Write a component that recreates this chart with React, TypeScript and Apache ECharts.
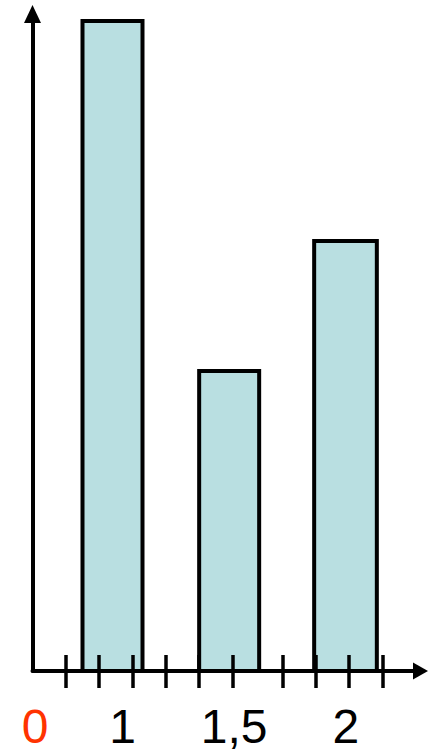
import React, { useEffect, useRef } from "react";
import * as echarts from "echarts";

// Histogram bars: [left edge, right edge, height]
const barLefts = [1.5, 5.0, 8.45];
const barRights = [3.3, 6.8, 10.33];
const barHeights = [6.5, 3.0, 4.3];

// Tick positions on the horizontal axis
const tickValues = [1, 2, 3, 4, 5, 6, 7.5, 8.5, 9.5, 10.5];

// Tick labels
const labelValues = [0.08, 2.7, 6.05, 9.4];
const labelTexts = ["0", "1", "1,5", "2"];

const X_MAX = 11.64;
const Y_MAX = 6.57;

export default function App() {
  const ref = useRef<HTMLDivElement>(null);
  useEffect(() => {
    if (!ref.current) return;
    const chart = echarts.init(ref.current, null, { renderer: "svg" });
    const data = barLefts.map((l, i) => [l, barRights[i], barHeights[i]]);
    const fmt = (v: number) => {
      let best = 0;
      let bd = Infinity;
      labelValues.forEach((lv, i) => {
        const d = Math.abs(lv - v);
        if (d < bd) {
          bd = d;
          best = i;
        }
      });
      const t = labelTexts[best];
      return t === "0" ? "{red|" + t + "}" : t;
    };
    chart.setOption({
      animation: false,
      grid: { left: 32.5, right: 9.5, top: 14, bottom: 84, containLabel: false },
      xAxis: [
        {
          type: "value",
          min: 0,
          max: X_MAX,
          z: 5,
          splitLine: { show: false },
          axisLine: {
            show: true,
            onZero: false,
            symbol: ["none", "triangle"],
            symbolSize: [17, 15],
            lineStyle: { color: "#000", width: 4 },
          },
          axisTick: {
            show: true,
            inside: false,
            length: 17,
            customValues: tickValues,
            lineStyle: { color: "#000", width: 3.5 },
          },
          axisLabel: {
            show: true,
            customValues: labelValues,
            margin: 31,
            formatter: fmt,
            color: "#000",
            fontFamily: "Liberation Sans",
            fontSize: 48,
            lineHeight: 48,
            rich: {
              red: {
                color: "#ff3300",
                fontFamily: "Liberation Sans",
                fontSize: 48,
                lineHeight: 48,
              },
            },
          },
        },
        {
          type: "value",
          min: 0,
          max: X_MAX,
          z: 5,
          position: "bottom",
          splitLine: { show: false },
          axisLine: { show: false, onZero: false },
          axisTick: {
            show: true,
            inside: true,
            length: 16,
            customValues: tickValues,
            lineStyle: { color: "#000", width: 3.5 },
          },
          axisLabel: { show: false },
        },
      ],
      yAxis: {
        type: "value",
        min: 0,
        max: Y_MAX,
        z: 5,
        splitLine: { show: false },
        axisTick: { show: false },
        axisLabel: { show: false },
        axisLine: {
          show: true,
          onZero: false,
          symbol: ["none", "triangle"],
          symbolSize: [17, 18],
          lineStyle: { color: "#000", width: 4 },
        },
      },
      series: [
        {
          type: "custom",
          xAxisIndex: 0,
          data,
          renderItem: (params: any, api: any) => {
            const p0 = api.coord([api.value(0), api.value(2)]);
            const p1 = api.coord([api.value(1), 0]);
            return {
              type: "rect",
              shape: { x: p0[0], y: p0[1], width: p1[0] - p0[0], height: p1[1] - p0[1] },
              style: { fill: "#b9dfe1", stroke: "#000", lineWidth: 4 },
            };
          },
        },
      ],
    });
    return () => chart.dispose();
  }, []);
  return (
    <div
      ref={ref}
      style={{ position: "absolute", left: 0, top: 0, width: 430, height: 755, background: "#fff" }}
    />
  );
}
